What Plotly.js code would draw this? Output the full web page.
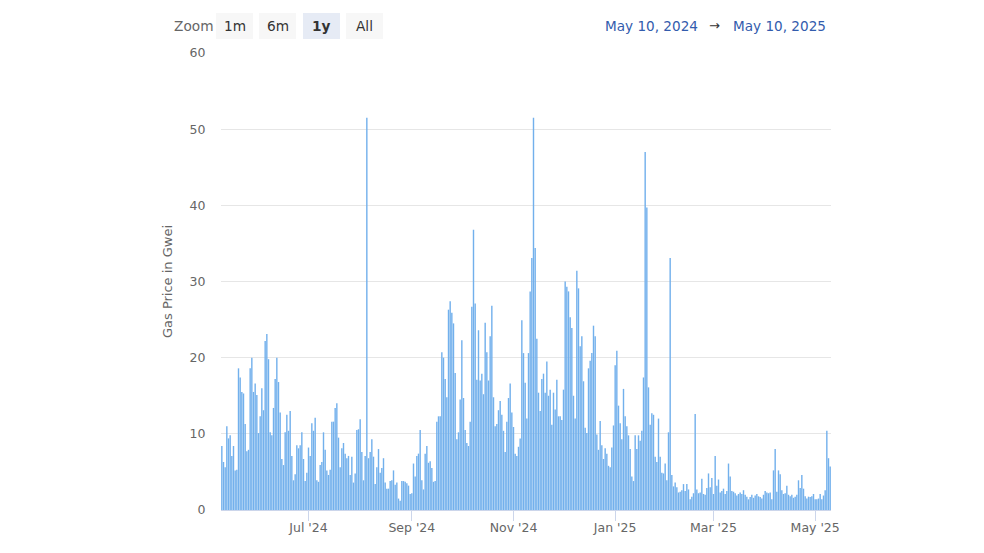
<!DOCTYPE html>
<html><head><meta charset="utf-8">
<script src="https://cdn.plot.ly/plotly-3.0.1.min.js"></script>
<style>html,body{margin:0;padding:0;background:#fff}#chart{width:984px;height:553px}</style>
</head><body><div id="chart"></div>
<script>
// ---- data ----
const startDate = [2024, 4, 10]; // May 10, 2024 (month 0-based)
const gasPrice = [
 8.4, 6.3, 5.6, 11.0, 9.4, 9.8, 7.1, 8.4, 5.2, 5.3, 18.6, 17.4, 15.5, 15.3, 11.3, 7.7, 7.9, 18.6, 20.0, 15.5,
 16.6, 15.1, 10.1, 12.3, 16.0, 13.1, 22.2, 23.1, 19.8, 10.2, 9.8, 13.4, 17.2, 20.0, 16.8, 12.8, 6.7, 5.9, 10.2, 12.5,
 10.4, 13.0, 7.1, 3.9, 4.7, 8.5,
 8.1, 8.5, 10.2, 6.7, 3.8, 4.9, 8.2, 7.1, 11.4, 10.4, 12.1, 3.9, 3.7, 5.9, 6.3, 10.2, 7.9, 5.2, 4.6, 5.3,
 11.6, 11.6, 13.4, 14.0, 9.5, 5.6, 8.1, 8.8, 7.4, 6.8, 7.1, 4.6, 7.0, 3.6, 4.8, 10.5, 10.6, 11.9, 7.6, 3.9,
 7.1, 51.5, 6.8, 7.6, 9.3, 7.0, 3.4,
 5.6, 8.0, 4.9, 5.5, 6.8, 3.6, 2.8, 2.8, 3.8, 3.9, 5.2, 3.3, 3.6, 1.5, 1.2, 3.8, 3.8, 3.7, 3.5, 3.2,
 2.1, 2.2, 6.1, 4.4, 7.1, 7.4, 10.5, 3.9, 2.7, 7.4, 8.4, 6.2, 6.4, 5.5, 3.7, 3.8, 11.6, 12.3, 12.3, 20.7,
 20.0, 17.2, 14.8, 26.3, 27.4, 25.9, 24.5,
 18.0, 9.3, 10.2, 14.5, 22.3, 14.7, 10.5, 8.8, 8.4, 11.6, 26.7, 36.8, 27.1, 17.1, 23.6, 17.0, 17.9, 15.2, 24.6, 20.7,
 17.0, 22.8, 26.8, 14.8, 11.0, 11.3, 13.1, 14.3, 12.5, 10.4, 7.6, 11.6, 14.7, 16.6, 12.8, 10.9, 7.4, 7.1, 8.3, 9.4,
 24.9, 20.6, 16.7, 12.0, 20.6, 28.7, 33.1,
 51.5, 34.4, 22.5, 15.4, 13.0, 17.2, 17.9, 15.4, 19.5, 15.0, 15.8, 11.2, 15.4, 13.2, 17.1, 12.3, 12.3, 11.8, 15.8, 30.0,
 29.3, 28.7, 25.3, 23.9, 15.0, 12.0, 31.4, 29.1, 21.5, 22.8, 16.9, 10.8, 10.1, 18.6, 19.6, 20.6, 24.2, 22.8, 9.9, 7.9,
 11.7, 8.5, 6.7, 8.1, 7.4, 5.8, 5.6,
 8.2, 11.1, 19.0, 20.9, 13.7, 11.4, 9.3, 15.9, 12.3, 11.0, 9.8, 8.0, 4.4, 3.8, 9.8, 8.0, 9.8, 9.1, 10.4, 17.4,
 47.0, 39.7, 16.1, 11.2, 12.7, 12.5, 7.0, 6.3, 12.0, 7.0, 4.9, 4.8, 6.1, 3.9, 10.2, 33.1, 4.6, 3.1, 3.6, 3.0,
 2.3, 2.4, 2.6, 3.4, 2.5, 3.4, 2.7,
 1.4, 1.75, 2.2, 12.6, 2.7, 2.2, 2.3, 4.1, 2.1, 2.0, 2.9, 4.8, 3.0, 4.2, 2.1, 7.1, 3.2, 4.0, 2.3, 2.5,
 2.8, 2.1, 2.5, 6.1, 4.4, 2.5, 2.4, 2.2, 1.9, 2.1, 2.3, 2.1, 2.6, 2.0, 1.75, 1.4, 1.7, 2.0, 1.6, 1.9,
 2.1, 1.8, 1.7, 1.5, 2.0, 2.5,
 2.3, 2.2, 2.3, 1.4, 5.2, 8.0, 2.4, 5.2, 4.7, 2.6, 2.1, 2.2, 3.2, 2.0, 1.8, 2.0, 1.6, 1.75, 2.0, 3.9,
 2.9, 4.6, 2.8, 1.8, 1.5, 1.75, 1.7, 1.8, 2.1, 1.4, 1.4, 1.5, 2.1, 1.4, 1.9, 2.6, 10.4, 6.8, 5.7
];
const tickDates = ['2024-07-01', '2024-09-01', '2024-11-01', '2025-01-01', '2025-03-01', '2025-05-01'];
const tickLabels = ["Jul '24", "Sep '24", "Nov '24", "Jan '25", "Mar '25", "May '25"];
const yTicks = [0, 10, 20, 30, 40, 50, 60];
const zoomButtons = ['1m', '6m', '1y', 'All'];
const selectedButton = '1y';
const rangeFrom = 'May 10, 2024';
const rangeTo = 'May 10, 2025';
const yTitle = 'Gas Price in Gwei';

// ---- build ----
function dayStr(i) {
  const d = new Date(Date.UTC(startDate[0], startDate[1], startDate[2] + i));
  return d.toISOString().slice(0, 10);
}
const dates = gasPrice.map((_, i) => dayStr(i));
const firstDay = dates[0], lastDay = dates[dates.length - 1];
function shiftHours(s, h) {
  const d = new Date(s + 'T00:00:00Z'); d.setUTCHours(d.getUTCHours() + h);
  return d.toISOString().slice(0, 19).replace('T', ' ');
}

const W = 984, H = 553;
const M = {l: 221, r: 153, t: 53, b: 43};
const pw = W - M.l - M.r, ph = H - M.t - M.b;
const px = x => (x - M.l) / pw;
const py = y => (H - M.b - y) / ph;

const FONT = '"DejaVu Sans", "Lucida Grande", Arial, sans-serif';
const shapes = [], annotations = [];

annotations.push({xref: 'paper', yref: 'paper', x: px(172), y: py(26), xanchor: 'left', yanchor: 'middle',
  text: 'Zoom', showarrow: false, font: {family: FONT, size: 13.7, color: '#666666'}});
const btnLeft = [216, 259, 303, 346];
zoomButtons.forEach((b, i) => {
  const sel = b === selectedButton;
  shapes.push({type: 'rect', xref: 'paper', yref: 'paper', x0: px(btnLeft[i]), x1: px(btnLeft[i] + 37),
    y0: py(39), y1: py(13), fillcolor: sel ? '#e6ebf5' : '#f7f7f7', line: {width: 0}, layer: 'above'});
  annotations.push({xref: 'paper', yref: 'paper', x: px(btnLeft[i] + 18.5), y: py(26), xanchor: 'center', yanchor: 'middle',
    text: sel ? '<b>' + b + '</b>' : b, showarrow: false, font: {family: FONT, size: 13.7, color: '#333333'}});
});
annotations.push({xref: 'paper', yref: 'paper', x: px(603), y: py(26), xanchor: 'left', yanchor: 'middle',
  text: rangeFrom, showarrow: false, font: {family: FONT, size: 13.6, color: '#335cad'}});
annotations.push({xref: 'paper', yref: 'paper', x: px(714), y: py(25), xanchor: 'center', yanchor: 'middle',
  text: '→', showarrow: false, font: {family: FONT, size: 13, color: '#333333'}});
annotations.push({xref: 'paper', yref: 'paper', x: px(731), y: py(26), xanchor: 'left', yanchor: 'middle',
  text: rangeTo, showarrow: false, font: {family: FONT, size: 13.6, color: '#335cad'}});

const trace = {
  type: 'bar', x: dates, y: gasPrice,
  marker: {color: '#72b0ec', line: {width: 0}},
  hoverinfo: 'x+y'
};

const layout = {
  width: W, height: H,
  margin: M,
  paper_bgcolor: '#ffffff', plot_bgcolor: '#ffffff',
  font: {family: FONT, size: 12.5, color: '#666666'},
  bargap: 0.15,
  showlegend: false,
  xaxis: {
    type: 'date',
    range: [shiftHours(firstDay, -12), shiftHours(lastDay, 12)],
    tickmode: 'array', tickvals: tickDates, ticktext: tickLabels,
    ticks: 'outside', ticklen: 10, tickcolor: '#ccd6eb', tickwidth: 1,
    ticklabelstandoff: -4,
    showline: true, linecolor: '#ccd6eb', linewidth: 1,
    showgrid: false, zeroline: false,
    tickfont: {family: FONT, size: 12.5, color: '#666666'},
    fixedrange: true
  },
  yaxis: {
    range: [0, 60],
    tickmode: 'array', tickvals: yTicks,
    showgrid: true, gridcolor: '#e6e6e6', gridwidth: 1,
    zeroline: false, showline: false,
    ticks: 'outside', ticklen: 12, tickcolor: 'rgba(0,0,0,0)',
    tickfont: {family: FONT, size: 12.5, color: '#666666'},
    title: {text: yTitle, font: {family: FONT, size: 13, color: '#666666'}, standoff: 14},
    fixedrange: true
  },
  shapes: shapes,
  annotations: annotations
};

Plotly.newPlot('chart', [trace], layout, {displayModeBar: false, staticPlot: true});
</script>
</body></html>
